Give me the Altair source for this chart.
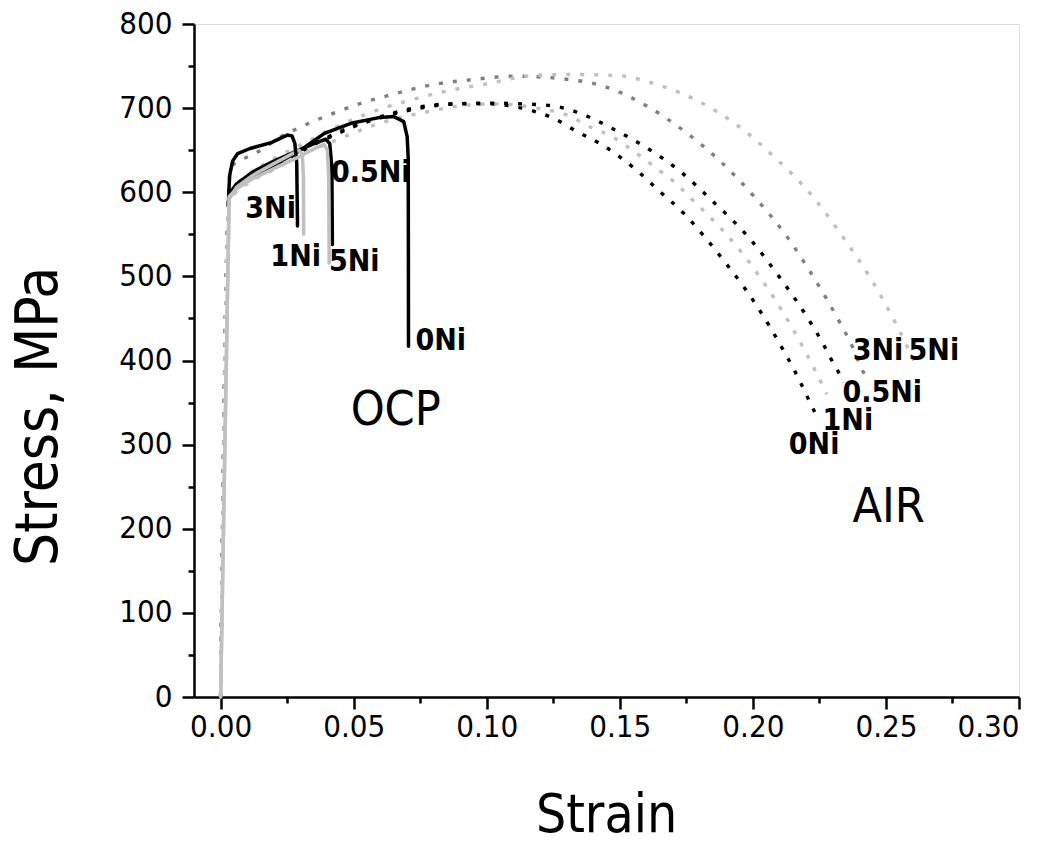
import altair as alt
import pandas as pd

# ---------------- data ----------------
# OCP (solid lines)
ocp_0ni_strain = [0.0029, 0.0032, 0.005, 0.01, 0.02, 0.03, 0.039, 0.049, 0.060, 0.065, 0.0688, 0.0701, 0.0705, 0.0706]
ocp_0ni_stress = [585, 595, 603, 616, 632, 650, 670, 682, 689, 690, 684, 666, 640, 417]

ocp_05ni_strain = [0.0029, 0.0032, 0.006, 0.012, 0.02, 0.03, 0.036, 0.0395, 0.041, 0.0418, 0.042]
ocp_05ni_stress = [588, 598, 610, 624, 637, 651, 659, 663, 658, 630, 538]

ocp_1ni_strain = [0, 0.0032, 0.006, 0.012, 0.02, 0.0265, 0.0295, 0.0307, 0.0311, 0.0312]
ocp_1ni_stress = [0, 592, 606, 620, 634, 645, 650, 645, 620, 550]

ocp_3ni_strain = [0.0030, 0.0034, 0.0045, 0.0064, 0.011, 0.019, 0.025, 0.0268, 0.0279, 0.0286, 0.0289]
ocp_3ni_stress = [595, 620, 637, 646, 652, 659, 668, 667, 658, 635, 560]

ocp_5ni_strain = [0, 0.0032, 0.006, 0.012, 0.02, 0.03, 0.036, 0.0388, 0.0401, 0.0406, 0.0408]
ocp_5ni_stress = [0, 595, 604, 616, 628, 643, 653, 657, 650, 620, 516]

# AIR (dotted lines)
air_0ni_strain = [0, 0.0032, 0.005, 0.01, 0.02, 0.03, 0.04, 0.05, 0.0647, 0.074, 0.0877, 0.1015, 0.110,
                  0.117, 0.125, 0.134, 0.143, 0.156, 0.165, 0.174, 0.1816, 0.19, 0.1967, 0.2035, 0.2097,
                  0.2158, 0.2215, 0.2244]
air_0ni_stress = [0, 592, 600, 614, 631, 648, 665, 679, 694, 701, 705, 705, 702,
                  697, 688, 672, 657, 627, 601, 575, 548, 515, 487, 455, 422,
                  387, 350, 331]

air_05ni_strain = [0, 0.0032, 0.005, 0.01, 0.02, 0.03, 0.04, 0.05, 0.065, 0.0877, 0.1015, 0.1135, 0.124,
                   0.129, 0.138, 0.147, 0.160, 0.1726, 0.185, 0.1985, 0.2098, 0.2203, 0.2267, 0.2295,
                   0.2322, 0.2342]
air_05ni_stress = [0, 594, 602, 616, 633, 650, 664, 678, 693, 705, 706, 705, 703,
                   700, 690, 676, 653, 625, 589, 546, 500, 452, 418, 401,
                   386, 374]

air_1ni_strain = [0, 0.0032, 0.005, 0.01, 0.02, 0.03, 0.045, 0.056, 0.078, 0.094, 0.104, 0.119, 0.130,
                  0.140, 0.1453, 0.159, 0.164, 0.172, 0.176, 0.184, 0.188, 0.200, 0.209, 0.2155,
                  0.2218, 0.2278]
air_1ni_stress = [0, 588, 597, 610, 627, 644, 664, 678, 696, 704, 705, 700, 692,
                  676, 669, 640, 628, 608, 595, 570, 557, 511, 469, 435,
                  398, 360]

air_3ni_strain = [0, 0.0034, 0.0045, 0.01, 0.014, 0.0226, 0.029, 0.0425, 0.053, 0.063, 0.080, 0.095,
                  0.110, 0.128, 0.144, 0.161, 0.1745, 0.187, 0.201, 0.2124, 0.223, 0.2327, 0.2376,
                  0.2402, 0.2432]
air_3ni_stress = [0, 620, 632, 642, 648, 666, 676, 694, 706, 715, 728, 734,
                  738, 735, 726, 701, 672, 639, 593, 549, 498, 445, 415,
                  395, 376]

air_5ni_strain = [0, 0.0032, 0.005, 0.01, 0.02, 0.03, 0.045, 0.061, 0.073, 0.086, 0.100, 0.118, 0.130,
                  0.148, 0.164, 0.179, 0.194, 0.207, 0.223, 0.234, 0.2444, 0.2545, 0.2605]
air_5ni_stress = [0, 596, 606, 620, 640, 656, 680, 700, 711, 721, 729, 739, 740,
                  739, 728, 709, 680, 645, 593, 546, 497, 439, 400]

series_names = ["0Ni", "0.5Ni", "1Ni", "3Ni", "5Ni"]
series_colors = ["#000000", "#000000", "#c0c0c0", "#000000", "#c0c0c0"]
air_colors = ["#000000", "#000000", "#c0c0c0", "#808080", "#c0c0c0"]

ocp_data = [(ocp_0ni_strain, ocp_0ni_stress), (ocp_05ni_strain, ocp_05ni_stress),
            (ocp_1ni_strain, ocp_1ni_stress), (ocp_3ni_strain, ocp_3ni_stress),
            (ocp_5ni_strain, ocp_5ni_stress)]
air_data = [(air_0ni_strain, air_0ni_stress), (air_05ni_strain, air_05ni_stress),
            (air_1ni_strain, air_1ni_stress), (air_3ni_strain, air_3ni_stress),
            (air_5ni_strain, air_5ni_stress)]

# labels
ni_label_text = ["3Ni", "1Ni", "5Ni", "0.5Ni", "0Ni", "3Ni", "5Ni", "0.5Ni", "1Ni", "0Ni"]
ni_label_strain = [0.0188, 0.0282, 0.0502, 0.0564, 0.0827, 0.2470, 0.2680, 0.2486, 0.2357, 0.2230]
ni_label_stress = [580, 523, 517, 623, 423, 411, 411, 361, 328, 299]

env_label_text = ["OCP", "AIR"]
env_label_strain = [0.0658, 0.2510]
env_label_stress = [340, 225]

x_tick_values = [0, 0.025, 0.05, 0.075, 0.10, 0.125, 0.15, 0.175, 0.20, 0.225, 0.25, 0.275, 0.30]
y_tick_values = [0, 50, 100, 150, 200, 250, 300, 350, 400, 450, 500, 550, 600, 650, 700, 750, 800]

# ---------------- build tables ----------------
def table(data, names, prefix):
    rows = []
    for name, (xs, ys) in zip(names, data):
        for i, (x, y) in enumerate(zip(xs, ys)):
            rows.append({"series": prefix + " " + name, "strain": x, "stress": y, "order": i})
    return pd.DataFrame(rows)

df_ocp = table(ocp_data, series_names, "OCP")
df_air = table(air_data, series_names, "AIR")
df_lab = pd.DataFrame({"text": ni_label_text, "strain": ni_label_strain, "stress": ni_label_stress})
df_env = pd.DataFrame({"text": env_label_text, "strain": env_label_strain, "stress": env_label_stress})

NARROW = "'DejaVu Sans Condensed', 'Liberation Sans', sans-serif"

xscale = alt.Scale(domain=[-0.01, 0.30], nice=False, zero=False)
yscale = alt.Scale(domain=[0, 800], nice=False, zero=False)

x_axis = alt.Axis(
    values=x_tick_values,
    labelExpr="round(datum.value*1000) % 50 == 0 ? format(datum.value, '.2f') : ''",
    tickSize={"condition": {"test": "round(datum.value*1000) % 50 == 0", "value": 12}, "value": 6},
    title="Strain", titleFontSize=53, titleFont=NARROW, titleFontWeight="normal",
    titleX=412, titleY=134, titleBaseline="alphabetic", titleAlign="center",
    labelFont=NARROW, labelFontSize=31, labelPadding=3, labelBaseline="top",
    labelColor="black", titleColor="black", grid=False,
    domainColor="black", domainWidth=2.5, tickColor="black", tickWidth=2.5,
)
y_axis = alt.Axis(
    values=y_tick_values,
    labelExpr="datum.value % 100 == 0 ? datum.label : ''",
    tickSize={"condition": {"test": "datum.value % 100 == 0", "value": 12}, "value": 6},
    title="Stress, MPa", titleFontSize=58, titleFont=NARROW, titleFontWeight="normal",
    titleX=-155, titleY=392, titleAngle=270, titleAlign="center", titleBaseline="middle",
    labelFont=NARROW, labelFontSize=31, labelPadding=10,
    labelColor="black", titleColor="black", grid=False,
    domainColor="black", domainWidth=2.5, tickColor="black", tickWidth=2.5,
)

ocp_domain = ["OCP " + n for n in series_names]
air_domain = ["AIR " + n for n in series_names]

air_layer = alt.Chart(df_air).mark_line(
    strokeDash=[4, 10], strokeWidth=3.4, interpolate="monotone"
).encode(
    x=alt.X("strain:Q", scale=xscale, axis=x_axis),
    y=alt.Y("stress:Q", scale=yscale, axis=y_axis),
    color=alt.Color("series:N", scale=alt.Scale(domain=air_domain + ocp_domain,
                                                range=air_colors + series_colors), legend=None),
    detail="series:N",
    order="order:Q",
)

ocp_layer = alt.Chart(df_ocp).mark_line(
    strokeWidth=3.5, interpolate="linear", strokeJoin="round", strokeCap="round"
).encode(
    x=alt.X("strain:Q", scale=xscale),
    y=alt.Y("stress:Q", scale=yscale),
    color=alt.Color("series:N", legend=None),
    detail="series:N",
    order="order:Q",
)

lab_layer = alt.Chart(df_lab).mark_text(
    font=NARROW, fontSize=30, fontWeight="bold", color="black", align="center", baseline="middle"
).encode(
    x=alt.X("strain:Q", scale=xscale),
    y=alt.Y("stress:Q", scale=yscale),
    text="text:N",
)

env_layer = alt.Chart(df_env).mark_text(
    font=NARROW, fontSize=48, fontWeight="normal", color="black", align="center", baseline="middle"
).encode(
    x=alt.X("strain:Q", scale=xscale),
    y=alt.Y("stress:Q", scale=yscale),
    text="text:N",
)

chart = alt.layer(air_layer, ocp_layer, lab_layer, env_layer).properties(
    width=825, height=673,
    autosize=alt.AutoSizeParams(type="none"),
    padding={"left": 186, "top": 16, "right": 20, "bottom": 140},
).configure_view(
    stroke="black", strokeWidth=2.5
).configure(background="white")

chart.save("out.html", embed_options={"renderer": "svg", "actions": False})
